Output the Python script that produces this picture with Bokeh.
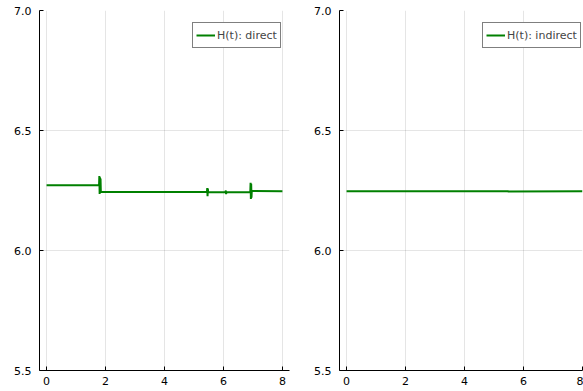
from bokeh.plotting import figure
from bokeh.layouts import row
from bokeh.models import Range1d, FixedTicker, Legend, LegendItem
from bokeh.embed import file_html
from bokeh.resources import INLINE

# ---- data ----
t_direct = [0.0, 1.78, 1.79, 1.80, 1.81, 1.82, 1.83, 1.84,
            5.44, 5.45, 5.46, 5.47, 5.48,
            6.07, 6.08, 6.09, 6.10,
            6.91, 6.92, 6.93, 6.94, 6.95, 6.96, 8.0]
H_direct = [6.272, 6.272, 6.310, 6.236, 6.305, 6.240, 6.300, 6.244,
            6.245, 6.260, 6.226, 6.258, 6.244,
            6.243, 6.250, 6.235, 6.243,
            6.243, 6.282, 6.215, 6.278, 6.220, 6.248, 6.247]

t_indirect = [0.0, 5.45, 5.46, 5.47, 8.0]
H_indirect = [6.247, 6.247, 6.249, 6.246, 6.247]

x_ticks = [0, 2, 4, 6, 8]
y_ticks = [5.5, 6.0, 6.5, 7.0]
labels = ["H(t): direct", "H(t): indirect"]

FONT = "DejaVu Sans"
GREEN = "#008000"


def make_panel(t, h, label, min_border_left, frame_width, x_end, min_border_right, legend_loc):
    p = figure(frame_width=frame_width, frame_height=360,
               x_range=Range1d(-0.24, x_end), y_range=Range1d(5.5, 7.0),
               output_backend="svg", toolbar_location=None,
               min_border_left=min_border_left, min_border_right=min_border_right,
               min_border_top=10, min_border_bottom=21)
    p.outline_line_color = None
    p.background_fill_color = "white"
    p.border_fill_color = "white"

    r = p.line(t, h, line_color=GREEN, line_width=2)

    for ax in (p.xaxis[0], p.yaxis[0]):
        ax.axis_line_color = "black"
        ax.axis_line_width = 1
        ax.major_tick_in = 4
        ax.major_tick_out = 0
        ax.major_tick_line_color = "black"
        ax.minor_tick_line_color = None
        ax.major_label_text_font = FONT
        ax.major_label_text_font_size = "11px"
        ax.major_label_text_color = "black"
    p.xaxis[0].ticker = FixedTicker(ticks=x_ticks)
    p.yaxis[0].ticker = FixedTicker(ticks=y_ticks)
    p.xaxis[0].major_label_standoff = 6
    p.yaxis[0].major_label_standoff = 8
    p.yaxis[0].major_label_overrides = {5.5: "5.5", 6.0: "6.0", 6.5: "6.5", 7.0: "7.0"}
    p.xaxis[0].major_label_overrides = {0: "0", 2: "2", 4: "4", 6: "6", 8: "8"}

    for g in (p.xgrid[0], p.ygrid[0]):
        g.grid_line_color = "black"
        g.grid_line_alpha = 0.1
        g.grid_line_width = 1
    p.xgrid[0].ticker = FixedTicker(ticks=x_ticks)
    p.ygrid[0].ticker = FixedTicker(ticks=y_ticks)

    leg = Legend(items=[LegendItem(label=label, renderers=[r])],
                 location=legend_loc, margin=0, padding=3, spacing=0,
                 glyph_width=19, glyph_height=18, label_height=18,
                 label_standoff=2,
                 label_text_font=FONT, label_text_font_size="11px",
                 border_line_color="black", border_line_width=1,
                 background_fill_color="white", background_fill_alpha=1.0)
    p.add_layout(leg, "center")
    return p


p1 = make_panel(t_direct, H_direct, labels[0], 39, 250, 8.24, 19, (153, 322))
p2 = make_panel(t_indirect, H_indirect, labels[1], 31, 243, 8.0, 1, (143, 322))

layout = row(p1, p2, spacing=0)
open("out.html", "w").write(file_html(layout, INLINE))
